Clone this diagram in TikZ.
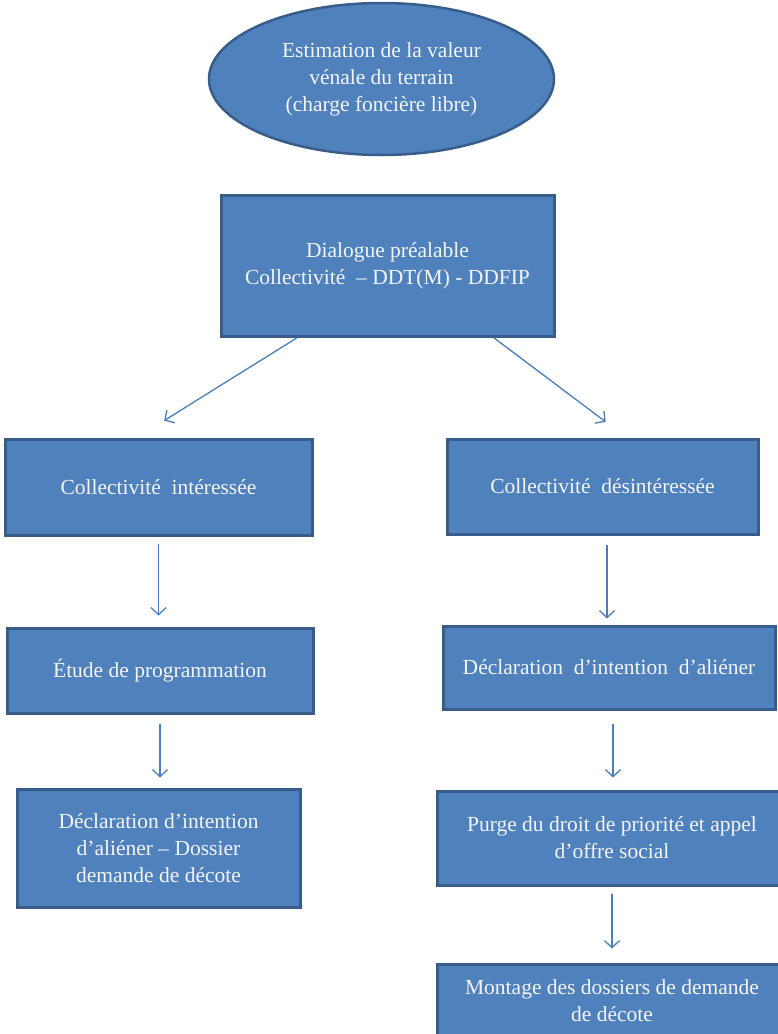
\documentclass[tikz,border=0pt]{standalone}
\usepackage{fontspec}
\setmainfont{Liberation Serif}
\usetikzlibrary{shapes.geometric, arrows.meta}
\definecolor{boxblue}{HTML}{4F81BD}
\definecolor{boxedge}{HTML}{385D8A}
\definecolor{arrblue}{HTML}{4A7EBB}
\definecolor{textwhite}{HTML}{F4F4F4}

\begin{document}
\begin{tikzpicture}[x=1pt, y=-1pt,
            stage/.style = {rectangle, draw=boxedge, fill=boxblue, line width=3pt, text=textwhite, align=center, inner sep=0pt, font=\fontsize{21.5}{27}\selectfont},
            oval/.style = {ellipse, draw=boxedge, fill=boxblue, line width=2.5pt, text=textwhite, align=center, inner sep=0pt, font=\fontsize{21.5}{27}\selectfont},
            arr/.style = {draw=arrblue, line width=1.3pt, -{Straight Barb[length=7pt, width=15pt]}},
        ]
            \path[use as bounding box, clip] (0,0) rectangle (778,1034);

            % Top of the chart
            \node[oval, minimum width=345, minimum height=152] (estim) at (381.5,79) {Estimation de la valeur\\vénale du terrain\\(charge foncière libre)};
            \node[stage, minimum width=333, minimum height=141] (dial) at (387.5,265.5) {Dialogue préalable\\Collectivité~ -- DDT(M) - DDFIP};

            % Left branch
            \node[stage, minimum width=307, minimum height=96] (inter) at (158.5,487) {Collectivité~ intéressée};
            \node[stage, minimum width=306, minimum height=85] (etude) at (160,670.5) {Étude de programmation};
            \node[stage, minimum width=283, minimum height=118] (dial2) at (158.5,848) {Déclaration d’intention\\d’aliéner -- Dossier\\demande de décote};

            % Right branch
            \node[stage, minimum width=311, minimum height=95] (desint) at (602.5,486.5) {Collectivité~ désintéressée};
            \node[stage, minimum width=332, minimum height=83] (dia) at (609,667.5) {Déclaration~ d’intention~ d’aliéner};
            \node[stage, minimum width=350, minimum height=94] (purge) at (612,838) {Purge du droit de priorité et appel\\d’offre social};
            \node[stage, minimum width=350, minimum height=74] (montage) at (612,1001) {Montage des dossiers de demande\\de décote};

            % Split after the dialogue
            \draw[arr, shorten >=32pt] ([xshift=78pt]dial.south west) -- ([xshift=-21.5pt]inter.north);
            \draw[arr, shorten >=26pt] ([xshift=274pt]dial.south west) -- ([xshift=24pt]desint.north);

            % Left transitions
            \draw[arr, shorten <=7pt, shorten >=11pt] (inter.south) -- (inter.south |- etude.north);
            \draw[arr, shorten <=9pt, shorten >=10pt] (etude.south) -- (etude.south |- dial2.north);

            % Right transitions
            \draw[arr, shorten <=9pt, shorten >=6pt] ([xshift=4.5pt]desint.south) -- ([xshift=4.5pt]desint.south |- dia.north);
            \draw[arr, shorten <=13pt, shorten >=12pt] ([xshift=4pt]dia.south) -- ([xshift=4pt]dia.south |- purge.north);
            \draw[arr, shorten <=7pt, shorten >=14pt] (purge.south) -- (purge.south |- montage.north);

        \end{tikzpicture}
\end{document}
